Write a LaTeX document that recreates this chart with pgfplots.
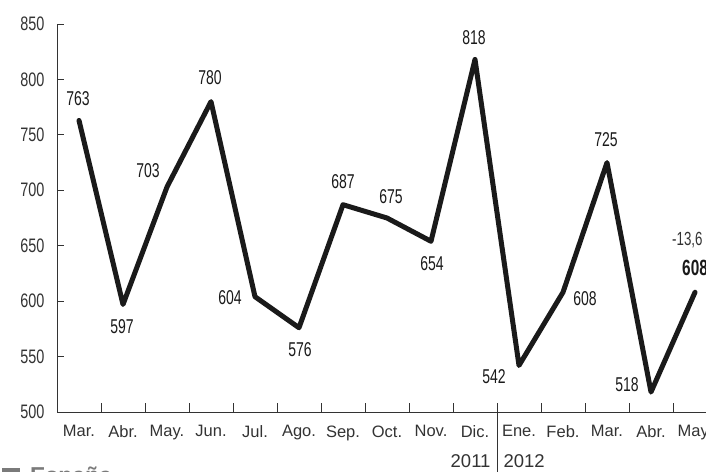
\documentclass[border=0pt]{standalone}
\usepackage{fontspec}
\setmainfont{Liberation Sans}
\newfontfamily\condfont{Liberation Sans}[FakeStretch=0.7]
\newfontfamily\tickfont{Liberation Sans}[FakeStretch=0.74]
\usepackage{pgfplots}
\pgfplotsset{compat=1.18}
\definecolor{ink}{HTML}{1A1A1A}
\definecolor{axisgray}{HTML}{333333}
\definecolor{legendgray}{HTML}{7A7A7A}
\begin{document}
\begin{tikzpicture}[x=1pt,y=1pt]
\path[use as bounding box] (-57,-59) rectangle (649,412);
\clip (-57,-59) rectangle (649,412);
\begin{axis}[
  at={(0,0)}, anchor=south west,
  scale only axis, width=649pt, height=388pt,
  xmin=-0.5, xmax=14.25, ymin=500, ymax=850,
  axis x line=bottom, axis y line=left,
  axis line style={-, draw=axisgray, line width=0.8pt},
  /pgf/number format/assume math mode=true,
  tick align=inside,
  major tick length=7pt,
  minor tick length=9pt,
  tick style={draw=axisgray, line width=0.8pt},
  xtick={0,1,2,3,4,5,6,7,8,9,10,11,12,13,14},
  xticklabels={Mar.,Abr.,May.,Jun.,Jul.,Ago.,Sep.,Oct.,Nov.,Dic.,Ene.,Feb.,Mar.,Abr.,May.},
  major x tick style={draw=none},
  minor x tick num=1,
  minor x tick style={draw=axisgray, line width=0.8pt},
  xticklabel style={font=\fontsize{16.5}{16.5}\selectfont, text=axisgray, yshift=-10pt},
  ytick={500,550,...,850},
  yticklabel style={font=\tickfont\fontsize{19.5}{19.5}\selectfont, text=axisgray, xshift=-9pt},
  clip=false,
]
\addplot[line width=5pt, color=ink, line join=round, line cap=round] coordinates {
 (0,763) (1,597) (2,703) (3,780) (4,604) (5,576) (6,687) (7,675) (8,654) (9,818)
 (10,542) (11,608) (12,725) (13,518) (14,608)};
\begin{scope}[every node/.style={font=\condfont\fontsize{20}{20}\selectfont, text=ink}]
\node at ([shift={(-1pt,22pt)}]axis cs:0,763) {763};
\node at ([shift={(-1pt,-22pt)}]axis cs:1,597) {597};
\node at ([shift={(-19pt,16pt)}]axis cs:2,703) {703};
\node at ([shift={(-1pt,24pt)}]axis cs:3,780) {780};
\node at ([shift={(-25pt,-1pt)}]axis cs:4,604) {604};
\node at ([shift={(1pt,-22pt)}]axis cs:5,576) {576};
\node at ([shift={(0pt,23pt)}]axis cs:6,687) {687};
\node at ([shift={(4pt,21pt)}]axis cs:7,675) {675};
\node at ([shift={(1pt,-22pt)}]axis cs:8,654) {654};
\node at ([shift={(-1pt,22pt)}]axis cs:9,818) {818};
\node at ([shift={(-25pt,-11pt)}]axis cs:10,542) {542};
\node at ([shift={(22pt,-6pt)}]axis cs:11,608) {608};
\node at ([shift={(-1pt,23pt)}]axis cs:12,725) {725};
\node at ([shift={(-24pt,7pt)}]axis cs:13,518) {518};
\end{scope}
\node[anchor=west, font=\condfont\fontsize{19}{19}\selectfont, text=axisgray, inner sep=0pt]
  at ([shift={(-23pt,52pt)}]axis cs:14,608) {-13,6\,\%};
\node[anchor=west, font=\condfont\bfseries\fontsize{22}{22}\selectfont, text=ink, inner sep=0pt]
  at ([shift={(-13pt,24pt)}]axis cs:14,608) {608};
\draw[axisgray, line width=0.8pt] (axis cs:9.5,500) -- ++(0pt,-60pt);
\node[anchor=east, font=\fontsize{18.5}{18.5}\selectfont, text=axisgray]
  at ([shift={(-3pt,-49pt)}]axis cs:9.5,500) {2011};
\node[anchor=west, font=\fontsize{18.5}{18.5}\selectfont, text=axisgray]
  at ([shift={(3pt,-49pt)}]axis cs:9.5,500) {2012};
\end{axis}
\fill[legendgray] (-55,-56) rectangle (-37,-72);
\node[anchor=base west, inner sep=0pt, font=\bfseries\fontsize{23}{23}\selectfont, text=legendgray] at (-27,-71) {España};
\end{tikzpicture}
\end{document}
